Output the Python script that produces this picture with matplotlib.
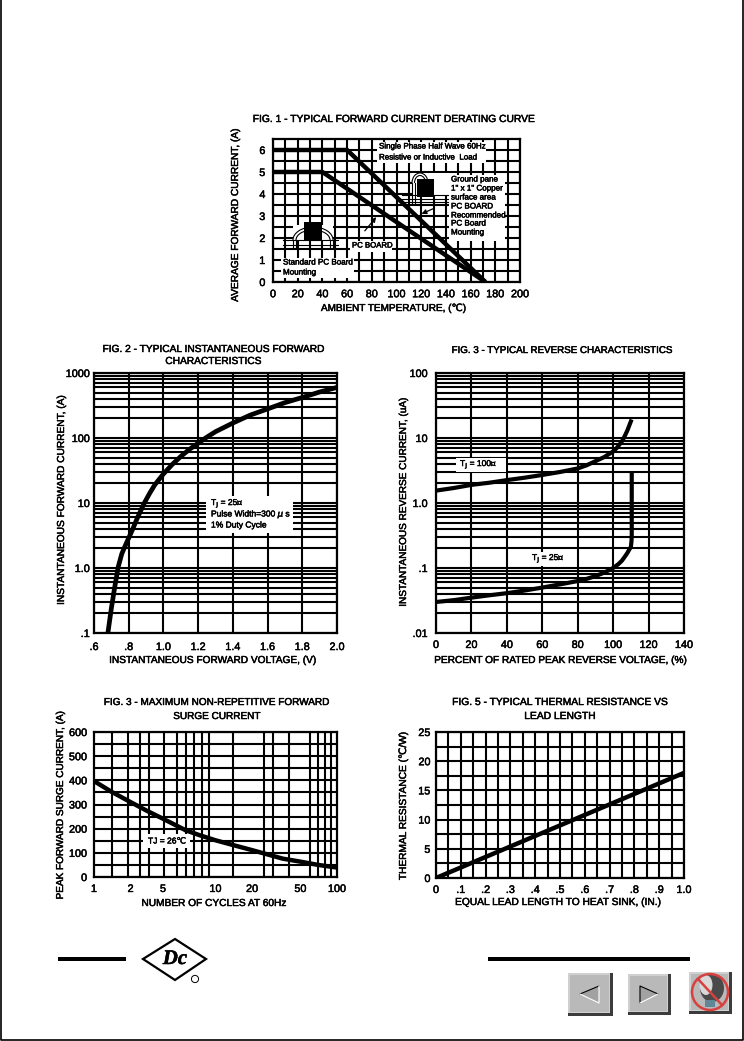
import numpy as np
import matplotlib
matplotlib.use('Agg')
import matplotlib.pyplot as plt
import matplotlib.patheffects as pe
from matplotlib.patches import Polygon, Rectangle, Circle, Ellipse, Arc

plt.rcParams['font.family'] = ['Liberation Sans', 'DejaVu Sans']

W, H = 744, 1041
BOLD = [pe.withStroke(linewidth=.35, foreground='k')]

# fig 1 derating
temp_pcb = [0, 40, 172]
amps_pcb = [5, 5, 0]
temp_gnd = [0, 60, 172]
amps_gnd = [6, 6, 0]

# fig 2 forward
volts = [.68, .70, .72, .74, .76, .78, .8, .82, .85, .89, .92, .95, 1.0, 1.05, 1.1, 1.15, 1.2,
         1.25, 1.3, 1.4, 1.5, 1.6, 1.7, 1.8, 1.9, 2.0]
i_fwd = [.1, .24, .52, 1.05, 1.65, 2.2, 2.9, 3.8, 5.9, 10, 14, 19, 28, 39, 52, 67, 83,
         103, 125, 170, 225, 280, 350, 420, 510, 600]

# fig 3 reverse
pct_100 = [0, 10, 20, 30, 40, 50, 60, 70, 80, 85, 90, 95, 100, 102, 105, 106, 108, 110]
i_100 = [1.55, 1.7, 1.9, 2.05, 2.25, 2.45, 2.7, 3.0, 3.4, 3.8, 4.4, 5.1, 6.2, 7, 8.9, 10, 13, 18]
pct_25 = [0, 10, 20, 30, 40, 50, 60, 70, 80, 85, 90, 95, 100, 103, 105, 107, 108, 109, 110, 110.3,
          110.5, 110.5]
i_25 = [.03, .032, .035, .038, .041, .045, .05, .056, .063, .068, .075, .085, .1, .115, .13, .155,
        .17, .19, .21, .25, .3, 2.7]

# fig 4 surge
cycles = [1, 1.4, 2, 2.7, 3.7, 5.7, 7.5, 10, 14, 19.4, 27, 35.7, 52, 70, 100]
surge = [397, 352, 310, 275, 241, 193, 172, 152, 132, 113, 93, 76, 62, 50, 39]
cycle_ticks = [1, 2, 3.7, 10, 20, 50, 100]
cycle_labels = ['1', '2', '5', '10', '20', '50', '100']
cycle_grid = [1.41, 1.9, 2.39, 2.83, 3.76, 4.81, 5.7, 6.63, 7.72, 8.81, 10, 14, 20, 25, 30, 40,
              50, 60, 70, 80, 90]

# fig 5 thermal
length = [0, .5, 1.0]
theta = [0, 9, 18]


def make_axes(fig, left, top, right, bottom, padx=5, pady=3):
    ax = fig.add_axes([left / W, 1 - bottom / H, (right - left) / W, (bottom - top) / H])
    for s in ax.spines.values():
        s.set_linewidth(1.6)
    ax.tick_params(which='both', length=0, labelsize=7.8)
    ax.tick_params(axis='x', which='both', pad=padx)
    ax.tick_params(axis='y', which='both', pad=pady)
    ax.set_axisbelow(True)
    ax.grid(which='both', color='k', lw=1.5)
    return ax


fig = plt.figure(figsize=(W / 100, H / 100), dpi=100)

# fig 1
ax1 = make_axes(fig, 273, 139, 520, 282, padx=5.2, pady=5.5)
ax1.set_xlim(0, 200)
ax1.set_ylim(0, 6.5)
ax1.set_xticks(range(0, 201, 20))
ax1.set_xticks(range(10, 200, 20), minor=True)
ax1.set_yticks(range(0, 7))
ax1.set_yticks(np.arange(.5, 6.5, 1), minor=True)
ax1.plot(temp_pcb, amps_pcb, 'k', lw=3.2, solid_capstyle='butt', zorder=3)
ax1.plot(temp_gnd, amps_gnd, 'k', lw=3.2, solid_capstyle='butt', zorder=3)

# fig 2
ax2 = make_axes(fig, 94, 373, 337, 633, padx=6.5)
ax2.set_yscale('log')
ax2.set_xlim(.6, 2.0)
ax2.set_ylim(.1, 1000)
ax2.set_xticks(np.arange(.6, 2.01, .2), ['.6', '.8', '1.0', '1.2', '1.4', '1.6', '1.8', '2.0'])
ax2.set_yticks([.1, 1, 10, 100, 1000], ['.1', '1.0', '10', '100', '1000'])
ax2.set_yticks([m * d for d in (.1, 1, 10, 100) for m in range(2, 10)], minor=True)
ax2.yaxis.set_minor_formatter(matplotlib.ticker.NullFormatter())
ax2.plot(volts, i_fwd, 'k', lw=3.4, zorder=3)

# fig 3
ax3 = make_axes(fig, 436, 373, 684, 633, padx=5, pady=6)
ax3.set_yscale('log')
ax3.set_xlim(0, 140)
ax3.set_ylim(.01, 100)
ax3.set_xticks(range(0, 141, 20))
ax3.set_yticks([.01, .1, 1, 10, 100], ['.01', '.1', '1.0', '10', '100'])
ax3.set_yticks([m * d for d in (.01, .1, 1, 10) for m in range(2, 10)], minor=True)
ax3.yaxis.set_minor_formatter(matplotlib.ticker.NullFormatter())
ax3.plot(pct_100, i_100, 'k', lw=3, zorder=3)
ax3.plot(pct_25, i_25, 'k', lw=3, zorder=3)

# fig 4
ax4 = make_axes(fig, 94, 732, 337, 877, padx=5, pady=5)
ax4.set_xscale('log')
ax4.set_xlim(1, 100)
ax4.set_ylim(0, 600)
ax4.grid(False)
ax4.set_xticks(cycle_ticks, cycle_labels)
ax4.xaxis.set_minor_formatter(matplotlib.ticker.NullFormatter())
ax4.set_xticks(cycle_grid, minor=True)
ax4.set_yticks(range(0, 601, 100))
ax4.set_yticks(range(50, 600, 100), minor=True)
ax4.grid(which='minor', color='k', lw=1.5)
ax4.grid(which='major', axis='y', color='k', lw=1.5)
ax4.plot(cycles, surge, 'k', lw=3.2, zorder=3)

# fig 5
ax5 = make_axes(fig, 436, 732, 684, 878, padx=5, pady=4)
ax5.set_xlim(0, 1)
ax5.set_ylim(0, 25)
ax5.set_xticks(np.arange(0, 1.01, .1), ['0', '.1', '.2', '.3', '.4', '.5', '.6', '.7', '.8', '.9', '1.0'])
ax5.set_xticks(np.arange(.05, 1, .1), minor=True)
ax5.set_yticks(range(0, 26, 5))
ax5.set_yticks(np.arange(2.5, 25, 5), minor=True)
ax5.plot(length, theta, 'k', lw=3.2, zorder=3)

for ax in (ax1, ax2, ax3, ax4, ax5):
    for lab in ax.get_xticklabels() + ax.get_yticklabels():
        lab.set_path_effects(BOLD)

# page overlay, pixel coordinates
pg = fig.add_axes([0, 0, 1, 1], facecolor='none')
pg.set_xlim(0, W)
pg.set_ylim(H, 0)
pg.axis('off')


def txt(x, y, s, size=7.3, **kw):
    kw.setdefault('ha', 'center')
    kw.setdefault('va', 'center')
    pg.text(x, y, s, fontsize=size, path_effects=BOLD, **kw)


def mask(x0, y0, x1, y1):
    pg.add_patch(Rectangle((x0, y0), x1 - x0, y1 - y0, fc='w', ec='none'))


# titles and axis labels
txt(394, 119, 'FIG. 1 - TYPICAL FORWARD CURRENT DERATING CURVE', 7.4)
txt(394, 308, 'AMBIENT TEMPERATURE, (℃)', 7.2)
txt(235, 215, 'AVERAGE FORWARD CURRENT, (A)', 7.3, rotation=90)

txt(213, 349, 'FIG. 2 - TYPICAL INSTANTANEOUS FORWARD', 7.33)
txt(213, 361, 'CHARACTERISTICS', 7.33)
txt(213, 660, 'INSTANTANEOUS FORWARD VOLTAGE, (V)', 7.28)
txt(61, 500, 'INSTANTANEOUS FORWARD CURRENT, (A)', 7.3, rotation=90)

txt(561, 350, 'FIG. 3 - TYPICAL REVERSE CHARACTERISTICS', 7.05)
txt(561, 660, 'PERCENT OF RATED PEAK REVERSE VOLTAGE, (%)', 7.28)
txt(403, 502, 'INSTANTANEOUS REVERSE CURRENT, (uA)', 7.2, rotation=90)

txt(217, 702, 'FIG. 3 - MAXIMUM NON-REPETITIVE FORWARD', 7.2)
txt(217, 716, 'SURGE CURRENT', 7.2)
txt(214, 903, 'NUMBER OF CYCLES AT 60Hz', 7.3)
txt(60, 805, 'PEAK FORWARD SURGE CURRENT, (A)', 7.2, rotation=90)

txt(560, 702, 'FIG. 5 - TYPICAL THERMAL RESISTANCE VS', 7.4)
txt(560, 716, 'LEAD LENGTH', 7.4)
txt(559, 902, 'EQUAL LEAD LENGTH TO HEAT SINK, (IN.)', 7.35)
txt(403, 806, 'THERMAL RESISTANCE (℃/W)', 7.3, rotation=90)

# fig 1 notes
mask(377, 142, 486, 163)
txt(379, 147, 'Single Phase Half Wave 60Hz', 5.75, ha='left')
txt(379, 158, 'Resistive or Inductive  Load', 5.75, ha='left')
mask(449, 175, 505, 241)
for y, s in zip([180, 189, 198, 207, 216, 224, 233],
                ['Ground pane', '1" x 1" Copper', 'surface area', 'PC BOARD',
                 'Recommended', 'PC Board', 'Mounting']):
    txt(451, y, s, 5.8, ha='left')
mask(350, 241, 392, 252)
txt(352, 246, 'PC BOARD', 5.6, ha='left')
mask(281, 258, 354, 278)
txt(283, 263, 'Standard PC Board', 5.8, ha='left')
txt(283, 273, 'Mounting', 5.8, ha='left')

# board icons
mask(293, 225, 333, 240)
mask(412, 173, 449, 195)
pg.add_patch(Rectangle((304, 222), 18, 18, fc='k', ec='none'))
pg.add_patch(Rectangle((417, 179), 17, 18, fc='k', ec='none'))
pg.plot([283, 338], [245, 245], 'k', lw=.8)
pg.plot([283, 338], [240, 240], 'k', lw=.8)
pg.plot([402, 448], [195, 195], 'k', lw=.8)
pg.plot([402, 448], [199, 199], 'k', lw=.8)
pg.plot([402, 448], [202, 202], 'k', lw=.8)
for w, h in [(40, 26), (34, 20)]:
    pg.add_patch(Arc((313, 240), w, h, theta1=180, theta2=360, color='k', lw=.8))
    pg.plot([313 - w / 2, 313 - w / 2], [240, 248], 'k', lw=.8)
    pg.plot([313 + w / 2, 313 + w / 2], [240, 248], 'k', lw=.8)
for w, h in [(16, 20), (11, 15)]:
    pg.add_patch(Arc((420, 183), w, h, theta1=180, theta2=360, color='k', lw=.8))
    pg.plot([420 - w / 2, 420 - w / 2], [183, 203], 'k', lw=.8)
pg.annotate('', xy=(378, 215), xytext=(363, 233),
            arrowprops=dict(arrowstyle='-|>', color='k', lw=.9, mutation_scale=7))
pg.annotate('', xy=(419, 215), xytext=(437, 207),
            arrowprops=dict(arrowstyle='-|>', color='k', lw=.9, mutation_scale=7))

# fig 2-5 notes
mask(206, 496, 293, 533)
txt(211, 504, 'T$_{\\mathrm{J}}$ = 25℃', 6.1, ha='left')
txt(211, 515, 'Pulse Width=300 $\\mu$ s', 6.1, ha='left')
txt(211, 526, '1% Duty Cycle', 6.1, ha='left')

mask(456, 458, 506, 472)
txt(460, 465, 'T$_{\\mathrm{J}}$ = 100℃', 6.1, ha='left')
mask(527, 552, 572, 566)
txt(532, 559, 'T$_{\\mathrm{J}}$ = 25℃', 6.1, ha='left')
mask(143, 834, 190, 848)
txt(148, 842, 'TJ = 26℃', 6.1, ha='left')

# footer rules
pg.add_patch(Rectangle((58, 957), 68, 4, fc='k', ec='none'))
pg.add_patch(Rectangle((488, 957), 202, 4, fc='k', ec='none'))

# logo
pg.add_patch(Polygon([(143, 959), (175, 939), (206, 959), (175, 980)], closed=True,
                     fc='w', ec='k', lw=1.6))
txt(175, 959, 'Dc', 15, family='Liberation Serif', style='italic', weight='bold')
pg.add_patch(Circle((195, 979), 3.6, fc='w', ec='k', lw=.7))


# nav buttons
def button(x0, y0, x1, y1):
    pg.add_patch(Rectangle((x0, y0), x1 - x0, y1 - y0, fc='#3c3c3c', ec='none'))
    pg.add_patch(Rectangle((x0, y0), x1 - x0 - 3, y1 - y0 - 3, fc='#d0d0d0', ec='none'))
    pg.add_patch(Rectangle((x0 + 2, y0 + 2), x1 - x0 - 6, y1 - y0 - 6, fc='#b9b9b9', ec='none'))


button(568, 973, 613, 1016)
button(628, 974, 671, 1015)
button(689, 972, 732, 1014)
pg.add_patch(Polygon([(580, 994), (599, 986), (599, 1003)], closed=True, fc='#a2a2a2', ec='none'))
pg.plot([580, 599], [994, 986], 'k', lw=.8)
pg.plot([580, 599, 599], [994, 1003, 986], 'w', lw=.8)
pg.add_patch(Polygon([(640, 986), (640, 1003), (658, 994)], closed=True, fc='#a2a2a2', ec='none'))
pg.plot([640, 640, 658], [1003, 986, 994], 'k', lw=.8)
pg.plot([640, 658], [1003, 994], 'w', lw=.8)

# bulb with red bar
pg.add_patch(Ellipse((712, 988), 24, 28, fc='#4a4a4a', ec='none'))
pg.add_patch(Ellipse((706, 985), 13, 20, fc='#d8d8d8', ec='none'))
pg.add_patch(Rectangle((705, 1000), 10, 7, fc='#5f8796', ec='none'))
pg.add_patch(Circle((710, 992), 18, fc='none', ec='#d84040', lw=1.8))
pg.plot([698, 722], [979, 1005], color='#d84040', lw=1.8)

# page border
pg.plot([.5, .5, 743, 743], [0, 1040, 1040, 0], 'k', lw=1.2)

fig.savefig('out.png', dpi=100)
